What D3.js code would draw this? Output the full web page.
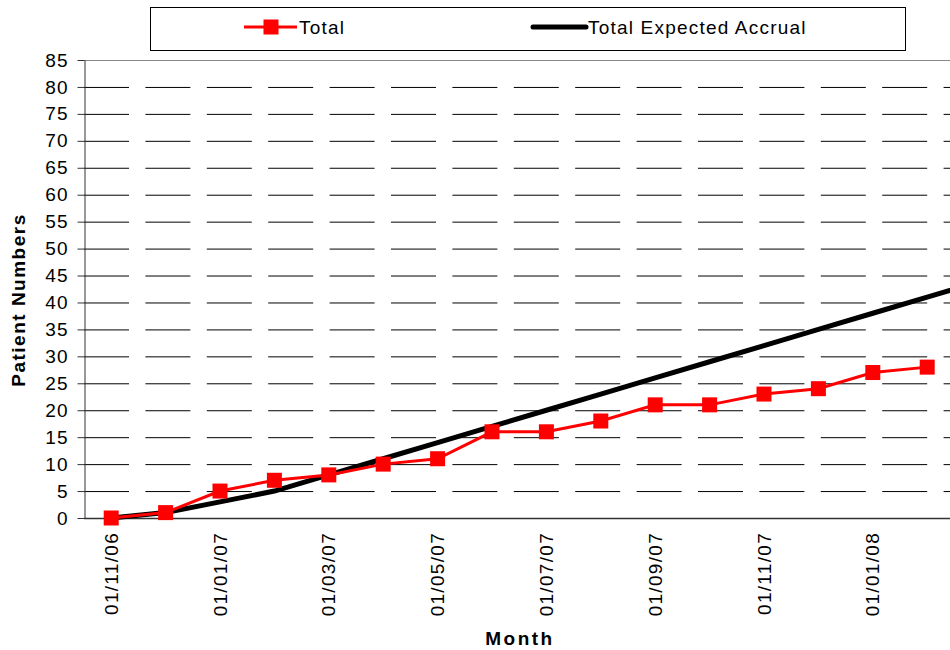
<!DOCTYPE html>
<html>
<head>
<meta charset="utf-8">
<script src="https://cdn.jsdelivr.net/npm/d3@7"></script>
<style>
  body { margin: 0; background: #fff; }
  svg { display: block; font-family: Arial, "Liberation Sans", sans-serif; }
</style>
</head>
<body>
<div id="chart"></div>
<script>
// month categories (the last one runs past the right edge of the picture)
var months = ["01/11/06","01/12/06","01/01/07","01/02/07","01/03/07","01/04/07","01/05/07",
              "01/06/07","01/07/07","01/08/07","01/09/07","01/10/07","01/11/07","01/12/07",
              "01/01/08","01/02/08","01/03/08"];
var total = [0, 1, 5, 7, 8, 10, 11, 16, 16, 18, 21, 21, 23, 24, 27, 28, null];
var expected = [0, 1, 3, 5, 8, 11, 14, 17, 20, 23, 26, 29, 32, 35, 38, 41, 44];
var yTicks = d3.range(0, 86, 5);
var seriesNames = ["Total", "Total Expected Accrual"];

var width = 950, height = 650;
var plotLeft = 84, plotTop = 60, plotBottom = 518;
var step = 54.4;

var svg = d3.select("#chart").append("svg")
  .attr("width", width)
  .attr("height", height);

var x = d3.scalePoint()
  .domain(months)
  .range([plotLeft, plotLeft + step * months.length])
  .padding(0.5);

var y = d3.scaleLinear()
  .domain([0, 85])
  .range([plotBottom, plotTop]);

// dashed gridlines
svg.append("g")
  .selectAll("line")
  .data(yTicks.filter(function(d) { return d > 0 && d < 85; }))
  .enter()
  .append("line")
  .attr("x1", plotLeft)
  .attr("x2", width)
  .attr("y1", function(d) { return y(d) + 0.5; })
  .attr("y2", function(d) { return y(d) + 0.5; })
  .attr("stroke", "#000")
  .attr("stroke-width", 1)
  .attr("stroke-dasharray", "45,16.4");

// plot border top
svg.append("line")
  .attr("x1", plotLeft).attr("x2", width)
  .attr("y1", plotTop + 0.5).attr("y2", plotTop + 0.5)
  .attr("stroke", "#888");

// y axis
var yAxis = svg.append("g")
  .attr("transform", "translate(" + (plotLeft + 0.5) + ",0)")
  .call(d3.axisLeft(y).tickValues(yTicks).tickSize(7).tickPadding(9).tickSizeOuter(0));
yAxis.select(".domain").attr("stroke", "#333");
yAxis.selectAll(".tick line").attr("stroke", "#333");
yAxis.selectAll("text")
  .attr("font-size", "19px")
  .attr("letter-spacing", "1px")
  .attr("fill", "#000");

// x axis line
svg.append("line")
  .attr("x1", plotLeft).attr("x2", width)
  .attr("y1", plotBottom + 0.5).attr("y2", plotBottom + 0.5)
  .attr("stroke", "#333")
  .attr("stroke-width", 1.5);

// x labels, every second month (only the ones that fit in the picture)
svg.append("g")
  .selectAll("text")
  .data(months.filter(function(d, i) { return i % 2 == 0 && x(d) < width - 20; }))
  .enter()
  .append("text")
  .attr("transform", function(d) {
    return "translate(" + x(d) + "," + (plotBottom + 14) + ") rotate(-90)";
  })
  .attr("text-anchor", "end")
  .attr("dy", "0.35em")
  .attr("font-size", "19px")
  .attr("letter-spacing", "1.3px")
  .text(function(d) { return d; });

// axis titles
svg.append("text")
  .attr("x", 520)
  .attr("y", 645)
  .attr("text-anchor", "middle")
  .attr("font-size", "19px")
  .attr("font-weight", "bold")
  .attr("letter-spacing", "2.5px")
  .text("Month");

svg.append("text")
  .attr("transform", "translate(25,300) rotate(-90)")
  .attr("text-anchor", "middle")
  .attr("font-size", "19px")
  .attr("font-weight", "bold")
  .attr("letter-spacing", "1.5px")
  .text("Patient Numbers");

// expected accrual line
var line = d3.line()
  .defined(function(d) { return d[1] != null; })
  .x(function(d) { return x(d[0]); })
  .y(function(d) { return y(d[1]); });

svg.append("path")
  .datum(months.map(function(m, i) { return [m, expected[i]]; }))
  .attr("d", line)
  .attr("fill", "none")
  .attr("stroke", "#000")
  .attr("stroke-width", 5);

// total line + square markers
var totalPts = months.map(function(m, i) { return [m, total[i]]; });
svg.append("path")
  .datum(totalPts)
  .attr("d", line)
  .attr("fill", "none")
  .attr("stroke", "#ff0000")
  .attr("stroke-width", 3);

svg.append("g")
  .selectAll("rect")
  .data(totalPts.filter(function(d) { return d[1] != null; }))
  .enter()
  .append("rect")
  .attr("x", function(d) { return x(d[0]) - 7.5; })
  .attr("y", function(d) { return y(d[1]) - 7.5; })
  .attr("width", 15)
  .attr("height", 15)
  .attr("fill", "#ff0000");

// legend
var legend = svg.append("g");
legend.append("rect")
  .attr("x", 150.5).attr("y", 7.5)
  .attr("width", 755).attr("height", 43)
  .attr("fill", "#fff")
  .attr("stroke", "#000");

legend.append("line")
  .attr("x1", 244).attr("x2", 297)
  .attr("y1", 27).attr("y2", 27)
  .attr("stroke", "#ff0000").attr("stroke-width", 3);
legend.append("rect")
  .attr("x", 263.5).attr("y", 19.5)
  .attr("width", 15).attr("height", 15)
  .attr("fill", "#ff0000");
legend.append("line")
  .attr("x1", 533).attr("x2", 586)
  .attr("y1", 27).attr("y2", 27)
  .attr("stroke", "#000").attr("stroke-width", 5)
  .attr("stroke-linecap", "round");

legend.selectAll("text.lg")
  .data(seriesNames)
  .enter()
  .append("text")
  .attr("class", "lg")
  .attr("x", function(d, i) { return i == 0 ? 299 : 588; })
  .attr("y", 27)
  .attr("dy", "0.35em")
  .attr("font-size", "19px")
  .attr("letter-spacing", "1.2px")
  .text(function(d) { return d; });
</script>
</body>
</html>
